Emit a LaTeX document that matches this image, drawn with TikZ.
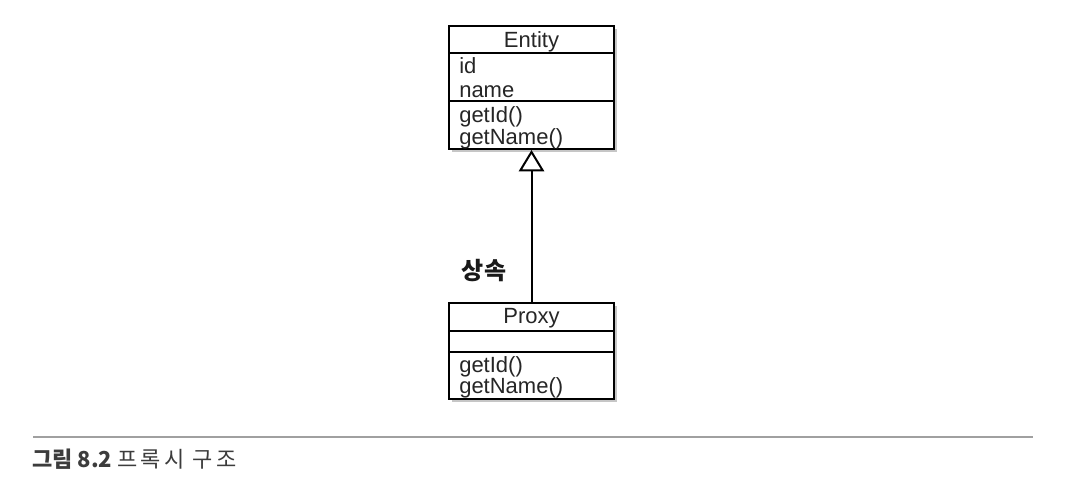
\documentclass[tikz,border=0pt]{standalone}
\usepackage{fontspec}
\setmainfont{Liberation Sans}
\newfontfamily\krfont{Noto Sans CJK KR}
\usetikzlibrary{arrows.meta,shadows}
\definecolor{captiongray}{HTML}{3C3C3C}
\definecolor{rulegray}{HTML}{A0A0A0}

\begin{document}
\begin{tikzpicture}[x=0.75pt,y=-0.75pt,
  classbox/.style={draw=black,line width=1.5pt,fill=white,minimum width=123.75pt,inner sep=0pt,
    drop shadow={shadow xshift=2pt,shadow yshift=-2pt,opacity=0.45}},
  title/.style={anchor=base,inner sep=0pt,font=\fontsize{16.5}{19}\selectfont,text=black!85},
  member/.style={anchor=base west,inner sep=0pt,font=\fontsize{16.5}{19}\selectfont,text=black!85}]
  \useasboundingbox (0,0) rectangle (1066,486);
  % Entity class
  \node[classbox,minimum height=92.25pt] (entity) at (531.5,87.5) {};
  \draw[line width=1.5pt] (449,53) -- (614,53) (449,101) -- (614,101);
  \node[title] (entitytitle) at (531.5,47) {Entity};
  \foreach \y/\t [count=\i] in {73/id,97/name,122/getId(),144/getName()}
    \node[member] (entityrow\i) at (459,\y) {\t};
  % Proxy class
  \node[classbox,minimum height=72pt] (proxy) at (531.5,351) {};
  \draw[line width=1.5pt] (449,331) -- (614,331) (449,352) -- (614,352);
  \node[title] (proxytitle) at (531.5,323) {Proxy};
  \foreach \y/\t [count=\i] in {372/getId(),393/getName()}
    \node[member] (proxyrow\i) at (459,\y) {\t};
  % Inheritance
  \draw[line width=1.5pt,-{Triangle[open,length=16pt,width=19pt]}] (proxy.north) -- (entity.south);
  \node[font=\krfont\bfseries\fontsize{18}{20}\selectfont,text=black!90] (inheritlabel) at (484,271) {상속};
  % Caption
  \draw[rulegray,line width=1.1pt] (33,437) -- (1033,437);
  \node[anchor=base west,inner sep=0pt,text=captiongray,font=\krfont\fontsize{16.5}{19}\selectfont] (caption)
    at (32,467) {\textbf{그림 8.2} {\addfontfeature{LetterSpace=15}프록시 구조}};
\end{tikzpicture}
\end{document}
